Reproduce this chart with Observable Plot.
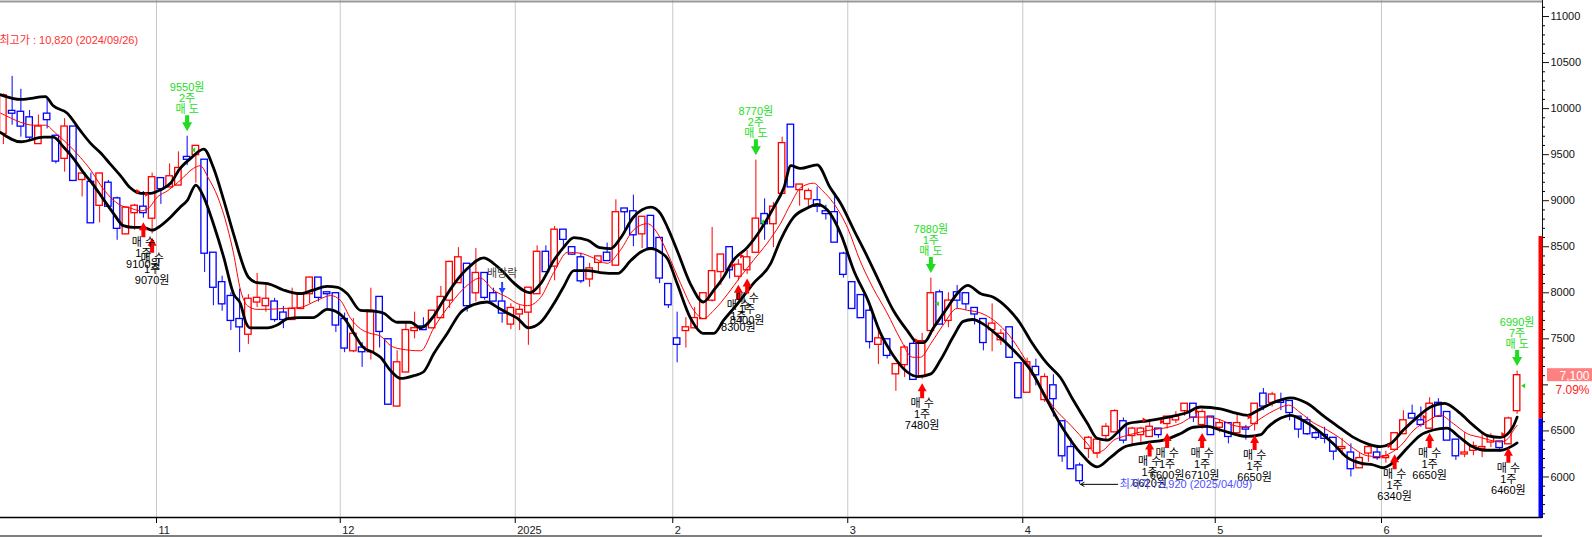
<!DOCTYPE html>
<html><head><meta charset="utf-8">
<script src="https://cdn.jsdelivr.net/npm/d3@7"></script>
<script src="https://cdn.jsdelivr.net/npm/@observablehq/plot@0.6"></script>
<style>
html,body{margin:0;padding:0;background:#fff;overflow:hidden;}
#chart svg{display:block;}
</style></head><body><div id="chart"></div>
<script>
// ---- candle data (trading days from 2024-10-07) ----
const open  = [9730,9970,9960,9900,9620,9940,9700,9460,9800,9230,9200,8950,9190,9020,8640,8870,8930,8810,9240,9150,9170,9470,9500,9440,8430,8110,7960,7710,7550,7900,7860,7900,7780,7710,7830,7990,8160,8000,7990,7710,7370,7400,7360,7950,7490,6770,7140,7590,7630,7620,7730,7920,8110,8310,8000,8210,7990,7900,7660,7770,7790,7990,8440,8290,8680,8490,8380,8150,8330,8430,8300,8910,8880,8640,8830,8590,8090,7500,7590,7620,7720,7920,8230,8490,8180,8250,8440,8850,8750,9080,9820,9120,9020,9000,8880,8870,8420,8110,7970,7800,7440,7490,7120,7220,7440,7090,7590,8000,7700,8000,7990,7830,7710,7600,7490,7620,7230,6920,7190,6840,6990,6600,6320,6120,6310,6260,6450,6490,6600,6450,6460,6440,6520,6580,6620,6720,6790,6570,6650,6540,6580,6480,6530,6580,6900,6810,6820,6820,6650,6610,6470,6450,6420,6310,6260,6100,6260,6260,6210,6300,6470,6680,6610,6530,6800,6700,6400,6250,6290,6310,6380,6380,6360,6720];
const high  = [10160,10350,10210,9980,9930,10120,9710,9890,9800,9310,9300,9300,9220,9040,8930,8960,9100,9300,9240,9400,9530,9700,9590,9440,8430,8180,8000,8040,7980,8210,8100,7940,7850,8050,7990,8170,8160,8000,7990,7780,7720,7460,8050,7950,7490,7370,7680,7790,7730,7810,8070,8330,8490,8310,8480,8210,8050,8030,7880,7860,8050,8510,8510,8720,8680,8490,8430,8320,8390,8540,9010,8910,9060,8820,8830,8590,8090,7790,7730,7840,7990,8710,8410,8490,8360,8460,9440,9020,8980,9690,9820,9170,9130,9150,8950,9090,8440,8110,7970,7860,7620,7490,7220,7430,7500,7560,8160,8030,8000,8080,7990,7830,7710,7880,7600,7620,7230,7290,7280,7120,7110,6600,6420,6150,6440,6400,6580,6730,6640,6540,6540,6620,6520,6660,6710,6790,6790,6730,6650,6620,6580,6690,6560,6790,6960,6920,6910,6820,6650,6650,6500,6540,6420,6420,6360,6260,6360,6340,6280,6480,6720,6780,6760,6860,6850,6700,6400,6480,6380,6480,6470,6380,6650,7150];
const low   = [9610,9820,9690,9650,9620,9780,9400,9310,9210,9040,8760,8760,8930,8570,8640,8680,8810,8640,8960,9140,9170,9380,9190,8220,7860,7800,7590,7350,7440,7840,7790,7680,7610,7710,7830,7880,7900,7830,7570,7350,7350,7190,7270,7400,6780,6760,7140,7500,7590,7610,7720,7830,8110,7790,7900,7920,7900,7670,7600,7590,7430,7990,8220,8130,8490,8410,8100,8060,8220,8350,8300,8640,8500,8480,8460,8100,7830,7240,7400,7610,7720,7900,8080,8150,8130,8200,8440,8570,8490,9080,9150,8940,8920,8870,8790,8550,8160,7830,7730,7390,7220,7280,6930,7080,7060,7060,7540,7660,7620,7830,7810,7650,7370,7360,7430,7290,6850,6920,6990,6810,6650,6160,6090,5920,6200,6200,6380,6490,6360,6340,6340,6430,6420,6520,6580,6660,6590,6520,6450,6480,6360,6470,6400,6500,6720,6760,6720,6610,6420,6450,6400,6360,6180,6230,6000,6100,6160,6180,6150,6290,6470,6640,6540,6520,6650,6400,6180,6210,6230,6210,6320,6270,6360,6680];
const close = [10140,9950,9810,9690,9800,9880,9430,9800,9220,9290,8760,9290,8940,8700,8920,8940,8870,9250,9130,9260,9350,9450,9590,8430,8060,7880,7700,7630,7930,7940,7930,7710,7710,7820,7990,8160,7950,7990,7650,7400,7550,7360,7800,7580,6790,7240,7590,7610,7600,7800,7950,8330,8380,7860,8210,7950,7910,7780,7830,7810,8050,8440,8230,8680,8580,8420,8130,8260,8390,8350,8870,8880,8630,8820,8490,8160,7870,7440,7620,7720,7990,8230,8410,8250,8300,8380,8800,8750,8930,9620,9150,9170,9100,8940,8860,8550,8200,7830,7730,7470,7500,7320,7220,7400,7060,7470,7990,7660,7910,7920,7880,7770,7460,7660,7550,7300,6860,7240,7110,7080,6850,6230,6090,5960,6420,6400,6540,6710,6400,6520,6520,6540,6460,6650,6650,6790,6650,6700,6460,6580,6440,6580,6520,6790,6770,6890,6810,6700,6520,6470,6430,6420,6280,6320,6090,6200,6320,6210,6220,6470,6610,6640,6570,6790,6660,6400,6230,6260,6330,6320,6430,6320,6630,7100];

// ---- envelope bands and moving average ----
const upperIdx = [-0.3,2.0,4.8,5.7,7.3,8.8,10.0,11.1,12.2,13.4,14.5,15.7,16.8,18.0,19.1,20.2,21.4,22.9,24.0,25.2,26.3,28.0,29.0,30.2,32.0,33.9,35.4,37.0,38.2,39.3,40.8,42.3,43.4,45.0,46.5,47.7,49.2,50.3,51.4,53.0,54.9,56.0,57.2,58.3,60.2,61.4,62.9,64.0,65.2,66.8,68.2,69.4,70.5,72.0,74.0,75.1,75.9,77.0,78.5,80.0,81.2,82.3,83.4,85.0,86.5,88.0,89.2,90.0,91.1,93.0,94.5,95.7,97.2,98.8,100.2,101.7,103.3,104.5,105.2,106.3,107.9,109.0,110.2,111.7,113.2,114.8,116.2,117.4,119.3,120.8,122.3,123.9,125.0,126.2,127.3,128.5,130.8,133.7,135.3,136.8,139.1,140.6,142.2,143.3,145.2,147.1,149.0,150.9,152.8,154.3,155.9,157.4,158.5,160.0,161.6,163.1,164.7,166.5,168.0,169.6,171.1,172.5,173.0];
const upperVal = [10150,10100,10130,10030,9950,9760,9620,9520,9400,9270,9140,9080,9080,9120,9190,9350,9460,9560,9360,9000,8640,8170,8110,8100,8030,7990,8030,8070,8060,7990,7810,7800,7780,7680,7680,7620,7750,7920,8080,8260,8380,8320,8220,8110,8000,8100,8350,8490,8600,8570,8490,8480,8590,8820,8930,8860,8710,8460,8100,7900,8030,8170,8350,8490,8680,8920,9140,9380,9350,9390,9140,8970,8680,8380,8100,7810,7590,7460,7460,7620,7840,7990,8080,7990,7950,7830,7670,7480,7230,7080,6830,6580,6420,6400,6480,6580,6610,6660,6700,6760,6740,6700,6670,6720,6810,6860,6800,6660,6530,6430,6360,6330,6360,6510,6650,6760,6800,6690,6560,6450,6430,6540,6650];
const lowerIdx = [-0.3,2.0,4.6,5.7,6.9,8.0,9.2,10.3,11.4,12.6,13.7,14.9,16.0,17.0,18.0,19.1,20.2,21.0,22.0,22.9,24.0,25.2,26.3,27.1,27.7,28.2,30.2,31.3,32.5,33.9,35.4,37.0,37.7,38.9,40.0,41.1,42.3,43.1,44.2,45.4,46.9,48.0,49.2,50.8,52.2,53.7,55.3,56.5,57.6,58.8,60.0,61.4,62.9,64.0,65.2,66.8,68.2,70.2,71.7,72.8,74.0,75.1,75.9,77.0,78.5,80.0,81.2,82.3,83.9,85.7,87.7,88.8,90.3,91.9,93.0,94.5,95.7,97.2,98.8,100.2,101.7,103.3,104.5,106.0,107.1,108.6,109.7,110.8,112.0,113.6,115.1,116.5,117.4,119.3,121.2,123.1,125.0,126.5,128.0,129.6,131.1,132.6,134.5,136.0,137.6,139.1,142.2,143.7,144.5,146.0,147.1,148.6,150.2,152.0,153.6,155.1,156.6,157.7,158.9,160.5,161.9,163.4,165.0,166.2,167.7,169.4,171.1,171.9,173.0];
const lowerVal = [9740,9640,9690,9690,9580,9460,9300,9170,9020,8860,8730,8710,8710,8680,8730,8820,8930,9000,9170,9040,8750,8380,7990,7880,7680,7620,7620,7650,7720,7730,7730,7820,7810,7730,7570,7410,7350,7300,7160,7070,7100,7140,7340,7570,7780,7870,7900,7840,7780,7720,7620,7680,7880,8060,8240,8240,8220,8210,8350,8440,8480,8440,8370,8100,7730,7560,7560,7700,7880,8100,8320,8570,8820,8920,8960,8860,8640,8240,7920,7570,7320,7140,7090,7120,7270,7530,7690,7710,7660,7540,7410,7270,7160,6830,6510,6260,6110,6210,6320,6360,6380,6400,6470,6540,6550,6510,6440,6460,6540,6640,6670,6610,6510,6360,6210,6150,6130,6100,6160,6320,6450,6510,6530,6450,6340,6290,6290,6310,6370];
const maIdx = [-0.3,0.8,2.0,3.4,4.8,6.0,7.3,8.8,10.0,11.1,12.2,13.4,14.5,15.7,16.6,17.6,18.8,20.2,21.7,22.5,23.4,24.5,25.6,26.3,27.1,27.9,29.0,30.2,32.0,33.9,35.9,37.4,38.5,39.7,40.8,41.9,43.1,44.2,45.4,47.7,49.2,51.1,53.0,54.5,56.0,57.6,58.8,59.9,61.4,62.9,64.5,65.9,67.4,69.0,70.5,72.0,73.6,74.8,75.9,77.4,78.9,80.0,81.2,82.8,84.2,85.7,87.3,88.8,90.0,91.1,92.6,93.6,94.9,96.5,97.9,99.4,101.0,102.5,103.9,104.8,106.0,107.4,109.0,110.2,111.7,113.2,115.1,117.4,120.0,122.0,123.9,124.8,125.7,126.9,128.0,129.6,131.1,132.6,134.5,136.0,137.6,139.1,140.6,142.2,143.3,145.2,146.9,148.2,149.7,151.3,152.8,154.3,155.9,157.4,158.5,159.7,161.2,162.8,164.2,165.7,167.3,168.8,169.9,171.1,172.0,172.6,173.0];
const maVal = [9950,9900,9850,9820,9820,9730,9620,9470,9330,9170,9040,8950,8920,8890,8920,9040,9110,9220,9350,9380,9250,9040,8710,8430,8030,7860,7820,7820,7830,7840,7920,7970,7920,7720,7610,7560,7530,7430,7390,7370,7620,7880,8080,8160,8030,7950,7880,7860,7950,8220,8440,8430,8380,8320,8460,8680,8750,8640,8430,8100,7810,7720,7810,7990,8170,8350,8540,8750,8970,9140,9190,9110,8970,8700,8350,8050,7780,7500,7300,7300,7450,7650,7830,7810,7780,7700,7520,7180,6760,6560,6360,6260,6290,6400,6440,6480,6510,6530,6580,6650,6650,6620,6560,6540,6610,6720,6780,6700,6590,6510,6420,6310,6230,6220,6260,6340,6510,6610,6670,6580,6470,6430,6400,6380,6420,6510,6560];

// ---- axis / labels ----
const monthLabels = ["11","12","2025","2","3","4","5","6"];
const monthStart  = [18,39,59,77,97,117,139,158];
const yTicks = [6000,6500,7500,8000,8500,9000,9500,10000,10500,11000];
const yHiddenTick = [7000];
const yMinor = [5600,5700,5800,5900,6100,6200,6300,6400,6600,6700,6800,6900,7100,7200,7300,7400,7600,7700,7800,7900,8100,8200,8300,8400,8600,8700,8800,8900,9100,9200,9300,9400,9600,9700,9800,9900,10100,10200,10300,10400,10600,10700,10800,10900,11100];

// ---- trade signals ----
const sellIdx   = [21,86,106,173];
const sellPrice = [9550,8770,7880,6990];
const sellQty   = ["2주","2주","1주","7주"];
const buyIdx    = [16,17,84,85,105,131,133,137,143,159,163,172];
const buyPrice  = [9100,9070,8300,8400,7480,6620,6600,6710,6650,6340,6650,6460];
const exDivIdx = 57;
const lowIdx = 123;
const lowText = "최저가 : 5,920 (2025/04/09)";
const highText = "최고가 : 10,820 (2024/09/26)";
const upLimit = 8610;
const changeText = "7.09%";

// ---- geometry ----
const W = 1592, H = 537, MR = 50, MB = 20;
const X_MIN = -0.3286, X_MAX = 175.9;
const Y_MIN = 5560, Y_MAX = 11174;
const PXV = (Y_MAX - Y_MIN) / (H - MB);      // won per pixel
const PXI = (X_MAX - X_MIN) / (W - MR);      // index per pixel
const RED = "#ff0000", BLUE = "#0000ff", GREEN = "#1edc1e";
const FONT = "'Liberation Sans', Arial, 'Noto Sans CJK KR', sans-serif";

const n = open.length;
const candles = open.map((o, i) => ({i, o, h: high[i], l: low[i], c: close[i], col: close[i] >= o ? RED : BLUE}));
const upper = upperIdx.map((x, k) => ({x, v: upperVal[k]}));
const lower = lowerIdx.map((x, k) => ({x, v: lowerVal[k]}));
const ma = maIdx.map((x, k) => ({x, v: maVal[k]}));
const months = monthStart.map((s, k) => ({x: s - 0.5, label: monthLabels[k]}));

// polygon helper: points given in pixel offsets [dx, up] from an anchor (i, val)
function shape(id, i, val, pts) {
  return pts.map(([px, up]) => ({id, x: i + px * PXI, v: val + up * PXV}));
}
const downArrow = (bw, hw, hl, len) => [[-bw, len], [bw, len], [bw, hl], [hw, hl], [0, 0], [-hw, hl], [-bw, hl]];
const upArrow = (bw, hw, hl, len) => downArrow(bw, hw, hl, len).map(([a, b]) => [a, -b]);

const sells = sellIdx.map((i, k) => ({i, tip: high[i] + 5 * PXV, price: sellPrice[k],
  text: `${sellPrice[k]}원\n${sellQty[k]}\n매 도`}));
const buys = buyIdx.map((i, k) => ({i, tip: low[i] - 4 * PXV, price: buyPrice[k],
  text: `매 수\n1주\n${buyPrice[k]}원`}));
const sellArrows = sells.flatMap((d, k) => shape("s" + k, d.i, d.tip, downArrow(2, 5, 9, 16)));
const buyArrows = buys.flatMap((d, k) => shape("b" + k, d.i, d.tip, upArrow(2, 4.5, 8, 15)));
// small execution flags: red ▶ left of buy candle, green ◀ right of sell candle, at trade price
const buyFlags = buys.flatMap((d, k) => shape("bf" + k, d.i, d.price, [[-7, 2.5], [-3, 0], [-7, -2.5]]));
const sellFlags = sells.flatMap((d, k) => shape("sf" + k, d.i, d.price, [[8, 2.5], [4, 0], [8, -2.5]]));
const exDiv = {i: exDivIdx, tip: high[exDivIdx] - 4 * PXV};
const exDivArrow = shape("e", exDiv.i, exDiv.tip, downArrow(1, 3.5, 6, 12));
const lastClose = close[n - 1];
const prevClose = close[n - 2];

const chart = Plot.plot({
  width: W, height: H,
  marginLeft: 0, marginRight: MR, marginTop: 0, marginBottom: MB,
  style: {fontFamily: FONT, fontSize: "11px", background: "white", color: "#111", overflow: "visible"},
  x: {domain: [X_MIN, X_MAX], axis: null},
  y: {domain: [Y_MIN, Y_MAX], axis: "right", ticks: yTicks, tickSize: 6, tickPadding: 2,
      tickFormat: d => String(d), line: true, label: null},
  color: {type: "identity"},
  marks: [
    // month grid
    Plot.ruleX(months, {x: "x", stroke: "#c8c8c8", strokeWidth: 1}),
    // frame lines
    Plot.ruleY([Y_MAX], {stroke: "#999", strokeWidth: 2, dy: 1}),
    Plot.ruleY([Y_MIN], {stroke: "black", strokeWidth: 1.5}),
    Plot.ruleY([Y_MIN], {stroke: "black", strokeWidth: 1.2, dy: 18.5}),
    Plot.ruleX(months, {x: "x", y1: Y_MIN, y2: Y_MIN - 6 * PXV, stroke: "black"}),
    Plot.text(months, {x: "x", y: Y_MIN, text: "label", dy: 13, dx: 2, textAnchor: "start", fill: "#222", fontSize: 11}),
    // minor y ticks + limit bar
    Plot.ruleY(yMinor, {x1: X_MAX, x2: X_MAX + 3 * PXI, stroke: "black"}),
    Plot.ruleY(yHiddenTick, {x1: X_MAX, x2: X_MAX + 6 * PXI, stroke: "black"}),
    Plot.ruleX([X_MAX], {y1: prevClose, y2: upLimit, stroke: RED, strokeWidth: 4, dx: -2}),
    Plot.ruleX([X_MAX], {y1: Y_MIN, y2: prevClose, stroke: BLUE, strokeWidth: 4, dx: -2}),
    // candles
    Plot.ruleX(candles, {x: "i", y1: "l", y2: "h", stroke: "col", strokeWidth: 1}),
    Plot.rect(candles, {x1: d => d.i - 0.37, x2: d => d.i + 0.37,
      y1: d => Math.min(d.o, d.c), y2: d => Math.max(d.o, d.c),
      fill: "white", stroke: "col", strokeWidth: 1.3, insetTop: -0.5, insetBottom: -0.5}),
    // MA and envelope
    Plot.line(ma, {x: "x", y: "v", stroke: RED, strokeWidth: 1, curve: "monotone-x"}),
    Plot.line(upper, {x: "x", y: "v", stroke: "black", strokeWidth: 2.8, curve: "monotone-x"}),
    Plot.line(lower, {x: "x", y: "v", stroke: "black", strokeWidth: 2.8, curve: "monotone-x"}),
    // execution flags
    Plot.line(buyFlags, {x: "x", y: "v", z: "id", fill: RED, stroke: "none"}),
    Plot.line(sellFlags, {x: "x", y: "v", z: "id", fill: GREEN, stroke: "none"}),
    // sell signals
    Plot.line(sellArrows, {x: "x", y: "v", z: "id", fill: GREEN, stroke: "none"}),
    Plot.text(sells, {x: "i", y: "tip", text: "text", dy: -18, lineAnchor: "bottom", fill: GREEN,
      fontSize: 11, fontFamily: FONT}),
    // buy signals
    Plot.line(buyArrows, {x: "x", y: "v", z: "id", fill: RED, stroke: "none"}),
    Plot.text(buys, {x: "i", y: "tip", text: "text", dy: 16, lineAnchor: "top", fill: "black",
      fontSize: 11, fontFamily: FONT}),
    // ex-dividend
    Plot.line(exDivArrow, {x: "x", y: "v", z: "id", fill: "#2244ff", stroke: "none"}),
    Plot.text([exDiv], {x: "i", y: "tip", text: () => "배당락", dy: -21, fill: "#444", fontSize: 11, fontFamily: FONT}),
    // lowest / highest
    Plot.arrow([lowIdx], {x1: d => d + 38 * PXI, x2: d => d + 1 * PXI, y1: low[lowIdx], y2: low[lowIdx],
      stroke: "black", strokeWidth: 1, headLength: 6}),
    Plot.text([lowIdx], {x: d => d, y: low[lowIdx], text: () => lowText, dx: 40, textAnchor: "start",
      fill: "#5050ff", fontSize: 11, fontFamily: FONT}),
    Plot.text([highText], {frameAnchor: "top-left", text: d => d, dx: -1, dy: 36, textAnchor: "start",
      fill: "#ff3030", fontSize: 11, fontFamily: FONT}),
    // current price tag
    Plot.rect([lastClose], {x1: X_MAX, x2: X_MAX, y1: d => d, y2: d => d,
      insetLeft: 5, insetRight: -50, insetTop: -7, insetBottom: -6, fill: "#ff8080"}),
    Plot.text([lastClose], {x: X_MAX, y: d => d, text: d => d3.format(",")(d), dx: 47, textAnchor: "end",
      fill: "white", fontSize: 12}),
    Plot.text([lastClose], {x: X_MAX, y: d => d, text: () => changeText, dx: 47, dy: 14, textAnchor: "end",
      fill: "#ff2020", fontSize: 12})
  ]
});
document.getElementById("chart").appendChild(chart);
</script>
</body></html>
